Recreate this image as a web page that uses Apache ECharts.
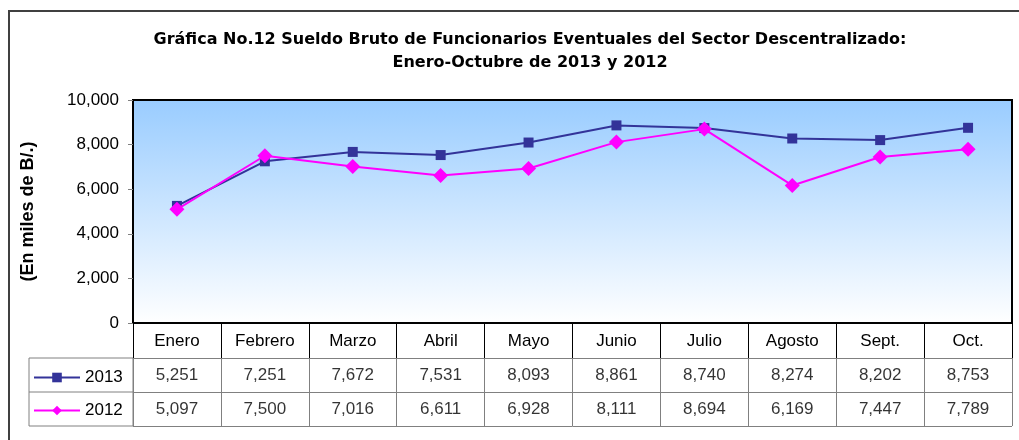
<!DOCTYPE html>
<html>
<head>
<meta charset="utf-8">
<script src="https://cdn.jsdelivr.net/npm/echarts@6/dist/echarts.min.js"></script>
<style>
  html, body { margin: 0; padding: 0; background: #fff; }
  #main { width: 1019px; height: 440px; }
</style>
</head>
<body>
<div id="main"></div>
<script>
// datos de la gráfica
const meses = ["Enero", "Febrero", "Marzo", "Abril", "Mayo", "Junio", "Julio", "Agosto", "Sept.", "Oct."];
const anios = ["2013", "2012"];
const datos2013 = [5251, 7251, 7672, 7531, 8093, 8861, 8740, 8274, 8202, 8753];
const datos2012 = [5097, 7500, 7016, 6611, 6928, 8111, 8694, 6169, 7447, 7789];
const ticksY = [0, 2000, 4000, 6000, 8000, 10000];

const fmt = (v) => v.toLocaleString("en-US");
const fuente = "Arial, 'Liberation Sans', sans-serif";

// celdas de la tabla de datos
function celdas(valores, anio) {
  return valores.map((v, i) => [i, anio, v]);
}

const chart = echarts.init(document.getElementById("main"));

const option = {
  backgroundColor: "#fff",
  animation: false,
  textStyle: { fontFamily: fuente, color: "#000" },
  title: {
    text: "Gráfica No.12 Sueldo Bruto de Funcionarios Eventuales del Sector Descentralizado:\nEnero-Octubre de 2013 y 2012",
    left: 525,
    textAlign: "center",
    top: 23,
    textStyle: {
      fontSize: 16,
      fontWeight: "bold",
      lineHeight: 23,
      color: "#000",
      fontFamily: "'DejaVu Sans', Arial, sans-serif",
    },
  },
  legend: {
    data: ["2013", "2012"],
    orient: "vertical",
    left: 28,
    top: 364,
    itemWidth: 46,
    itemHeight: 12,
    itemGap: 16,
    textStyle: { fontSize: 17, color: "#000" },
  },
  grid: [
    // área de la gráfica
    {
      left: 133, right: 7, top: 100, height: 223,
      show: true,
      borderColor: "#000",
      borderWidth: 2,
      backgroundColor: new echarts.graphic.LinearGradient(0, 0, 0, 1, [
        { offset: 0, color: "#99ccff" },
        { offset: 1, color: "#ffffff" },
      ]),
    },
    // fila de encabezado
    { left: 133, right: 7, top: 323, height: 35 },
    // filas de datos
    { left: 133, right: 7, top: 358, height: 68 },
  ],
  xAxis: [
    {
      gridIndex: 0,
      type: "category",
      data: meses,
      boundaryGap: true,
      axisLine: { lineStyle: { color: "#000", width: 2 } },
      axisTick: { show: false },
      axisLabel: { fontSize: 17, color: "#000", margin: 10 },
    },
    {
      gridIndex: 1,
      type: "category",
      data: meses,
      axisLine: { show: false },
      axisTick: { show: false },
      axisLabel: { show: false },
      splitLine: { show: true, interval: 0, lineStyle: { color: "#000", width: 1 } },
    },
    {
      gridIndex: 2,
      type: "category",
      data: meses,
      axisLine: { show: false },
      axisTick: { show: false },
      axisLabel: { show: false },
      splitLine: { show: true, interval: 0, lineStyle: { color: "#808080", width: 1 } },
    },
  ],
  yAxis: [
    {
      gridIndex: 0,
      type: "value",
      min: ticksY[0],
      max: ticksY[ticksY.length - 1],
      interval: 2000,
      name: "(En miles de B/.)",
      nameLocation: "middle",
      nameGap: 96,
      nameTextStyle: { fontSize: 18, fontWeight: "bold", color: "#000" },
      axisLine: { show: true, lineStyle: { color: "#000", width: 2 } },
      axisTick: { show: true, length: 5, lineStyle: { color: "#808080" } },
      axisLabel: { fontSize: 17, color: "#000", margin: 14, formatter: (v) => fmt(v) },
      splitLine: { show: false },
    },
    {
      gridIndex: 1,
      type: "category",
      data: [""],
      axisLine: { show: false },
      axisTick: { show: false },
      axisLabel: { show: false },
      splitLine: { show: false },
    },
    {
      gridIndex: 2,
      type: "category",
      data: anios,
      inverse: true,
      axisLine: { show: false },
      axisTick: { show: false },
      axisLabel: { show: false },
      splitLine: { show: true, interval: 0, lineStyle: { color: "#808080", width: 1 } },
    },
  ],
  series: [
    {
      name: "2013",
      type: "line",
      data: datos2013,
      symbol: "rect",
      symbolSize: 10,
      lineStyle: { color: "#333399", width: 2 },
      itemStyle: { color: "#333399" },
      z: 3,
    },
    {
      name: "2012",
      type: "line",
      data: datos2012,
      symbol: "diamond",
      symbolSize: 15,
      lineStyle: { color: "#ff00ff", width: 2 },
      itemStyle: { color: "#ff00ff" },
      z: 4,
    },
    {
      name: "tabla",
      type: "scatter",
      xAxisIndex: 2,
      yAxisIndex: 2,
      data: celdas(datos2013, "2013").concat(celdas(datos2012, "2012")),
      symbolSize: 1,
      itemStyle: { color: "rgba(0,0,0,0)" },
      label: {
        show: true,
        position: "inside",
        fontSize: 17,
        color: "#000",
        formatter: (p) => fmt(p.value[2]),
      },
      silent: true,
    },
  ],
  graphic: [
    // marco exterior
    {
      type: "rect",
      shape: { x: 9, y: 11, width: 1030, height: 450 },
      style: { fill: null, stroke: "#404040", lineWidth: 2 },
      silent: true,
    },
    // caja de la leyenda
    {
      type: "rect",
      shape: { x: 29, y: 358, width: 104, height: 68 },
      style: { fill: null, stroke: "#808080", lineWidth: 1 },
      silent: true,
    },
    {
      type: "line",
      shape: { x1: 29, y1: 392, x2: 133, y2: 392 },
      style: { stroke: "#808080", lineWidth: 1 },
      silent: true,
    },
  ],
};

chart.setOption(option);
</script>
</body>
</html>
